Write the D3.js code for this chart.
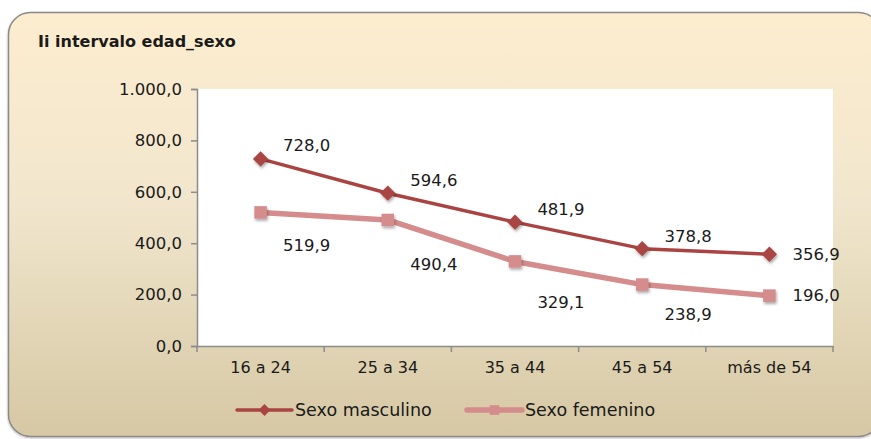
<!DOCTYPE html>
<html>
<head>
<meta charset="utf-8">
<script src="https://cdn.jsdelivr.net/npm/d3@7"></script>
<style>
  html, body { margin: 0; padding: 0; background: #fff; }
  svg { display: block; font-family: "DejaVu Sans", sans-serif; }
</style>
</head>
<body>
<div id="chart"></div>
<script>
const categorias = ["16 a 24", "25 a 34", "35 a 44", "45 a 54", "más de 54"];
const masculino = [728.0, 594.6, 481.9, 378.8, 356.9];
const femenino = [519.9, 490.4, 329.1, 238.9, 196.0];
const yTicks = [0, 200, 400, 600, 800, 1000];

const colores = {
  masculino: "#a94442",
  femenino: "#d48c8c",
};

const width = 871;
const height = 439;
const margin = { top: 89, right: 38, bottom: 93, left: 197 };

const locale = d3.formatLocale({ decimal: ",", thousands: ".", grouping: [3], currency: ["", "€"] });
const fmt = locale.format(",.1f");

const svg = d3.select("#chart").append("svg")
  .attr("width", width)
  .attr("height", height);

const defs = svg.append("defs");
const grad = defs.append("linearGradient")
  .attr("id", "fondo").attr("x1", 0).attr("y1", 0).attr("x2", 0).attr("y2", 1);
grad.append("stop").attr("offset", "0%").attr("stop-color", "#fdedcf");
grad.append("stop").attr("offset", "45%").attr("stop-color", "#f1e6cd");
grad.append("stop").attr("offset", "100%").attr("stop-color", "#d6c8a4");

const sombra = defs.append("filter").attr("id", "sombra")
  .attr("x", "-50%").attr("y", "-50%").attr("width", "200%").attr("height", "200%");
sombra.append("feDropShadow")
  .attr("dx", 1).attr("dy", 2).attr("stdDeviation", 1.5)
  .attr("flood-color", "#000").attr("flood-opacity", 0.35);

const marco = defs.append("filter").attr("id", "marco")
  .attr("x", "-5%").attr("y", "-5%").attr("width", "110%").attr("height", "110%");
marco.append("feDropShadow")
  .attr("dx", 0).attr("dy", 1).attr("stdDeviation", 1)
  .attr("flood-color", "#000").attr("flood-opacity", 0.3);

// fondo del gráfico
svg.append("rect")
  .attr("x", 8.5).attr("y", 12.5)
  .attr("width", 872).attr("height", 424)
  .attr("rx", 22).attr("ry", 22)
  .attr("fill", "url(#fondo)")
  .attr("stroke", "#8a8a8a")
  .attr("stroke-width", 1.5)
  .attr("filter", "url(#marco)");

svg.append("text")
  .attr("x", 38).attr("y", 47)
  .attr("font-size", 16)
  .attr("font-weight", "bold")
  .attr("fill", "#1a1a1a")
  .text("Ii intervalo edad_sexo");

const x = d3.scaleBand()
  .domain(categorias)
  .range([margin.left, width - margin.right]);

const y = d3.scaleLinear()
  .domain([0, 1000])
  .range([height - margin.bottom, margin.top]);

svg.append("rect")
  .attr("x", margin.left).attr("y", margin.top)
  .attr("width", x.range()[1] - margin.left)
  .attr("height", y(0) - margin.top)
  .attr("fill", "#fff");

// eje Y
const yAxis = svg.append("g")
  .attr("transform", `translate(${margin.left},0)`)
  .call(d3.axisLeft(y).tickValues(yTicks).tickFormat(fmt).tickSize(6).tickPadding(9));
yAxis.selectAll("text").attr("font-size", 16.5).attr("fill", "#1a1a1a")
  .attr("font-family", "DejaVu Sans");

// eje X con marcas en los límites de cada categoría
const xAxis = svg.append("g")
  .attr("transform", `translate(0,${y(0)})`)
  .call(d3.axisBottom(x).tickSize(0).tickPadding(16));
xAxis.selectAll("text").attr("font-size", 16).attr("fill", "#1a1a1a")
  .attr("font-family", "DejaVu Sans");
xAxis.selectAll(".bound")
  .data(categorias.map((c) => x(c)).concat([x.range()[1]]))
  .join("line")
  .attr("class", "bound")
  .attr("x1", (d) => d).attr("x2", (d) => d)
  .attr("y1", 0).attr("y2", 6);

svg.selectAll(".domain, .tick line, .bound")
  .attr("stroke", "#8c8c8c")
  .attr("stroke-width", 1.5);

const cx = (i) => x(categorias[i]) + x.bandwidth() / 2;

const linea = d3.line()
  .x((d, i) => cx(i))
  .y((d) => y(d));

const series = [
  { nombre: "Sexo masculino", datos: masculino, color: colores.masculino, grosor: 3.5, forma: d3.symbolDiamond2, tam: 150, dy: [-14, -13, -13, -12, 0] },
  { nombre: "Sexo femenino", datos: femenino, color: colores.femenino, grosor: 5.5, forma: d3.symbolSquare2, tam: 200, dy: [33, 44, 41, 30, 0] },
];

series.forEach((s) => {
  svg.append("path")
    .datum(s.datos)
    .attr("fill", "none")
    .attr("stroke", s.color)
    .attr("stroke-width", s.grosor)
    .attr("stroke-linejoin", "round")
    .attr("d", linea);

  svg.selectAll(null)
    .data(s.datos)
    .join("path")
    .attr("transform", (d, i) => `translate(${cx(i)},${y(d)})`)
    .attr("d", d3.symbol(s.forma, s.tam))
    .attr("fill", s.color)
    .attr("filter", "url(#sombra)");

  svg.selectAll(null)
    .data(s.datos)
    .join("text")
    .attr("x", (d, i) => cx(i) + (i === s.datos.length - 1 ? 23 : 46))
    .attr("y", (d, i) => y(d) + s.dy[i])
    .attr("dy", "0.35em")
    .attr("text-anchor", (d, i) => (i === s.datos.length - 1 ? "start" : "middle"))
    .attr("font-size", 16.5)
    .attr("fill", "#1a1a1a")
    .text((d) => fmt(d));
});

// leyenda
const leyenda = [
  { x: 237, serie: series[0] },
  { x: 467, serie: series[1] },
];
leyenda.forEach(({ x: lx, serie }) => {
  const g = svg.append("g").attr("transform", `translate(${lx},410)`);
  g.append("line")
    .attr("x1", 0).attr("x2", 55)
    .attr("stroke", serie.color)
    .attr("stroke-width", serie.grosor)
    .attr("stroke-linecap", "round");
  g.append("path")
    .attr("transform", "translate(27.5,0)")
    .attr("d", d3.symbol(serie.forma, serie.tam * 0.6))
    .attr("fill", serie.color);
  g.append("text")
    .attr("x", 58).attr("dy", "0.35em")
    .attr("font-size", 17.5)
    .attr("fill", "#1a1a1a")
    .text(serie.nombre);
});
</script>
</body>
</html>
